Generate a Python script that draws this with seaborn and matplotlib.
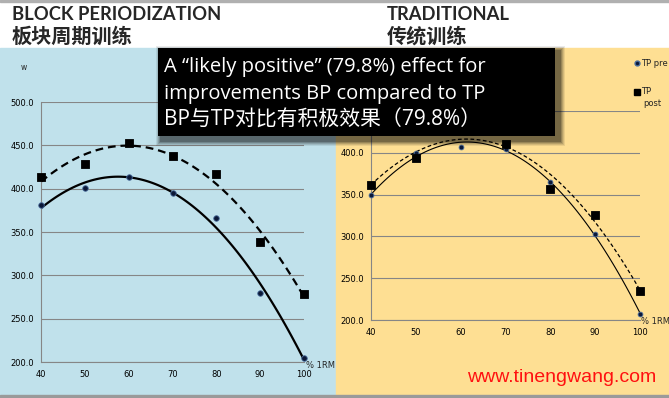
import matplotlib
matplotlib.use("Agg")
import matplotlib.pyplot as plt
import numpy as np
import seaborn as sns
from matplotlib.lines import Line2D
from matplotlib.patches import Rectangle

# % 1RM loads and mean power (W)
pct_1rm = [40, 50, 60, 70, 80, 90, 100]
bp_pre = [381, 401, 413, 395, 366, 280, 205]
bp_post = [413, 429, 453, 438, 417, 338, 279]
tp_pre = [349, 400, 407, 404, 365, 303, 207]
tp_post = [362, 394, 428, 411, 357, 326, 235]

left_title = ["BLOCK PERIODIZATION", "板块周期训练"]
right_title = ["TRADITIONAL", "传统训练"]
box_lines = [
    "A \u201clikely positive\u201d (79.8%) effect for",
    "improvements BP compared to TP",
    "BP与TP对比有积极效果（79.8%）",
]
legend_labels = ["TP pre", "TP", "post"]

W, H = 669, 398
BLUE = "#C0E1EB"
YELLOW = "#FEDF93"
GRID = "#868686"

sns.set_style("white")
plt.rcParams["font.family"] = ["DejaVu Sans", "Noto Sans CJK SC"]


def fx(px):
    return px / W


def fy(py):
    return 1 - py / H


def px_axes(fig, x0, x1, y_top, y_bottom):
    return fig.add_axes([fx(x0), fy(y_bottom), (x1 - x0) / W, (y_bottom - y_top) / H])


def style_axes(ax, ylim, yticks, hidden=()):
    ax.set_facecolor("none")
    ax.set_xlim(40, 100)
    ax.set_ylim(*ylim)
    ax.set_xticks(pct_1rm)
    ax.set_yticks(yticks)
    ax.set_yticklabels(["" if v in hidden else f"{v:.1f}" for v in yticks])
    ax.grid(axis="y", color=GRID, lw=0.8)
    ax.grid(axis="x", visible=False)
    for side in ["top", "right"]:
        ax.spines[side].set_visible(False)
    for side in ["left", "bottom"]:
        ax.spines[side].set_color(GRID)
        ax.spines[side].set_linewidth(0.8)
    ax.tick_params(axis="both", labelsize=6, colors=GRID, labelcolor="black",
                   length=3, width=0.8, direction="out", pad=2)
    ax.tick_params(axis="x", pad=3)
    ax.set_xlabel("")
    ax.set_ylabel("")


def trend(ax, y, marker, size, face, edge, lw, ls):
    sns.regplot(x=pct_1rm, y=y, order=2, ci=None, ax=ax, marker=marker,
                scatter_kws={"s": size, "color": face, "edgecolor": edge,
                             "linewidths": 0.6, "alpha": 1, "zorder": 3,
                             "clip_on": False},
                line_kws={"color": "black", "lw": lw, "ls": ls, "zorder": 2})


fig = plt.figure(figsize=(W / 100, H / 100), dpi=100)

# panel backgrounds
fig.add_artist(Rectangle((0, 0), fx(336), fy(48), transform=fig.transFigure,
                         color=BLUE, zorder=-10))
fig.add_artist(Rectangle((fx(336), 0), 1 - fx(336), fy(48), transform=fig.transFigure,
                         color=YELLOW, zorder=-10))
fig.add_artist(Rectangle((0, 0), 1, 3 / H, transform=fig.transFigure,
                         color="#9a9a9a", zorder=-9))
fig.add_artist(Rectangle((0, fy(1.5)), 1, 1.5 / H, transform=fig.transFigure,
                         color="#b0b0b0", zorder=-9))

# left chart: block periodization
ax_l = px_axes(fig, 41, 304, 102, 362)
style_axes(ax_l, (200, 500), [200, 250, 300, 350, 400, 450, 500])
trend(ax_l, bp_pre, "o", 16, "#0b1838", "#4a6d9c", 1.6, "-")
trend(ax_l, bp_post, "s", 38, "black", "black", 1.6, (0, (3.5, 2.2)))

# right chart: traditional (450 label sits behind the callout box)
ax_r = px_axes(fig, 371, 640, 111, 320)
style_axes(ax_r, (200, 450), [200, 250, 300, 350, 400, 450], hidden=(450,))
trend(ax_r, tp_pre, "o", 12, "#0b1838", "#4a6d9c", 0.8, "-")
trend(ax_r, tp_post, "s", 30, "black", "black", 0.9, (0, (3, 2)))

# axis annotations
fig.text(fx(24), fy(67), "w", fontsize=5.5, ha="center", va="center")
fig.text(fx(306), fy(366), "% 1RM", fontsize=6, ha="left", va="center")
fig.text(fx(641), fy(321), "% 1RM", fontsize=6, ha="left", va="center")

# legend for the right chart
fig.add_artist(Line2D([fx(637)], [fy(63)], marker="o", ms=3.5, color="#0b1838",
                      mec="#4a6d9c", transform=fig.transFigure))
fig.add_artist(Line2D([fx(637)], [fy(92)], marker="s", ms=5, color="black",
                      transform=fig.transFigure))
fig.text(fx(641), fy(63), legend_labels[0], fontsize=6, va="center")
fig.text(fx(641), fy(92), legend_labels[1], fontsize=6, va="center")
fig.text(fx(643), fy(103), legend_labels[2], fontsize=6, va="center")

# titles
fig.text(fx(12), fy(15), left_title[0], fontsize=13.2, fontweight="bold",
         family=["Lato", "DejaVu Sans"], va="center")
fig.text(fx(12), fy(36), left_title[1], fontsize=14.5, fontweight="bold",
         family=["Noto Sans CJK SC"], va="center")
fig.text(fx(387), fy(15), right_title[0], fontsize=13.2, fontweight="bold",
         family=["Lato", "DejaVu Sans"], va="center")
fig.text(fx(387), fy(36), right_title[1], fontsize=14.5, fontweight="bold",
         family=["Noto Sans CJK SC"], va="center")

# black callout box with a soft shadow
for i, a in enumerate([0.08, 0.10, 0.13, 0.17, 0.22]):
    grow = 6 - i
    fig.add_artist(Rectangle((fx(158 - grow + 4), fy(136 + grow + 4)),
                             (397 + 2 * grow) / W, (88 + 2 * grow) / H,
                             transform=fig.transFigure, color="black",
                             alpha=a, lw=0, zorder=9))
fig.add_artist(Rectangle((fx(158), fy(136)), 397 / W, 88 / H,
                         transform=fig.transFigure, color="black", lw=0, zorder=10))
for y, size, line in zip([72, 99, 126], [14.5, 14.5, 15], box_lines):
    fig.text(fx(164), fy(y), line, fontsize=size, color="white",
             family=["Open Sans", "Noto Sans CJK SC"], va="baseline", zorder=11)

# watermark
fig.text(fx(562), fy(377), "www.tinengwang.com", fontsize=14, color="#FF1010",
         family=["Liberation Sans"], ha="center", va="center", zorder=11)

fig.savefig("out.png", dpi=100)
